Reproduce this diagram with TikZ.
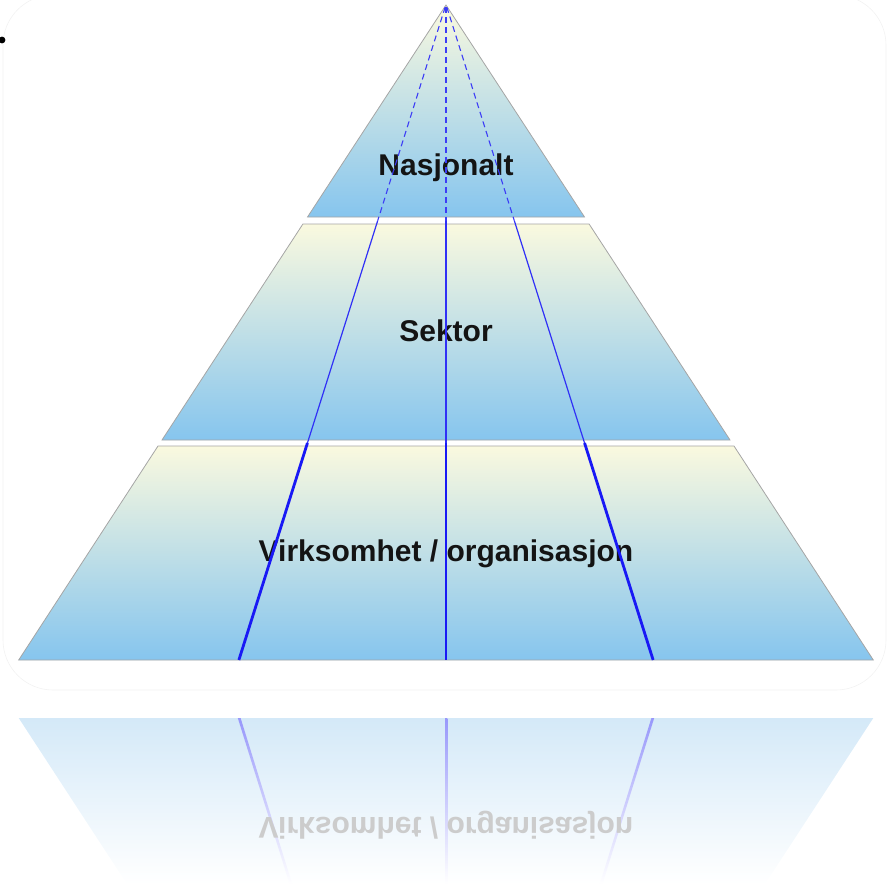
\documentclass[tikz,border=0pt]{standalone}
\usepackage{fontspec}
\setmainfont{Liberation Sans}
\definecolor{cyel}{RGB}{250,249,223}
\definecolor{cblu}{RGB}{134,197,238}
\definecolor{cedge}{RGB}{165,165,165}
\definecolor{cline}{RGB}{25,25,245}
\definecolor{crefl}{RGB}{212,233,248}
\definecolor{creflmid}{RGB}{236,244,251}
\definecolor{ctext}{RGB}{20,20,20}
\tikzset{
  band/.style={top color=cyel, bottom color=cblu, draw=cedge, line width=0.8pt, line join=miter},
  topline/.style={draw=cline!85!white, line width=1.1pt, dash pattern=on 6pt off 4pt},
  midline/.style={draw=cline!90!white, line width=1.2pt},
  botline/.style={draw=cline, line width=2.8pt},
  label/.style={font=\fontsize{30}{36}\selectfont\bfseries, text=ctext, inner sep=0pt, anchor=base},
  refline/.style={top color=cline!45!white, bottom color=white, draw=none},
}
\begin{document}
\begin{tikzpicture}[x=1pt, y=-1pt]
\useasboundingbox (0,0) rectangle (888,884);
% faint frame and mark
\draw[black!5, line width=0.6pt, rounded corners=50pt] (3,-5) rectangle (886,690);
\fill[black] (2,40) circle (3.4);
% bands
\shade[band] (446,5) -- (584.5,217) -- (307.5,217) -- cycle;
\shade[band] (302.9,224) -- (589.1,224) -- (730,440) -- (162,440) -- cycle;
\shade[band] (158,446) -- (734,446) -- (873.3,660) -- (18.7,660) -- cycle;
% labels
\node[label] (nat) at (446,175) {Nasjonalt};
\node[label] (sek) at (446,341) {Sektor};
\node[label] (virk) at (446,561) {Virksomhet / organisasjon};
% dividing lines
\foreach \s in {-0.316,0,0.316} {
  \draw[topline] ({446+\s*(7-4.5)},7) -- ({446+\s*(220.5-4.5)},220.5);
  \draw[midline] ({446+\s*(220.5-4.5)},220.5) -- ({446+\s*(443-4.5)},443);
  \draw[botline] ({446+\s*(443-4.5)},443) -- ({446+\s*(660-4.5)},660);
}
% reflection
\shade[top color=crefl, middle color=creflmid, bottom color=white] (18.7,718) -- (873.3,718) -- (765,884) -- (127,884) -- cycle;
\shade[refline] (237.8,718) -- (240.6,718) -- (292.2,884) -- (289.6,884) -- cycle;
\shade[refline] (445,718) -- (447.4,718) -- (447.4,884) -- (445,884) -- cycle;
\shade[refline] (651.4,718) -- (654.2,718) -- (602.4,884) -- (599.8,884) -- cycle;
\begin{scope}[shift={(446,817)}, yscale=-1]
  \node[label, text=black!20, transform shape] (virkrefl) at (0,0) {Virksomhet / organisasjon};
\end{scope}
\end{tikzpicture}
\end{document}
